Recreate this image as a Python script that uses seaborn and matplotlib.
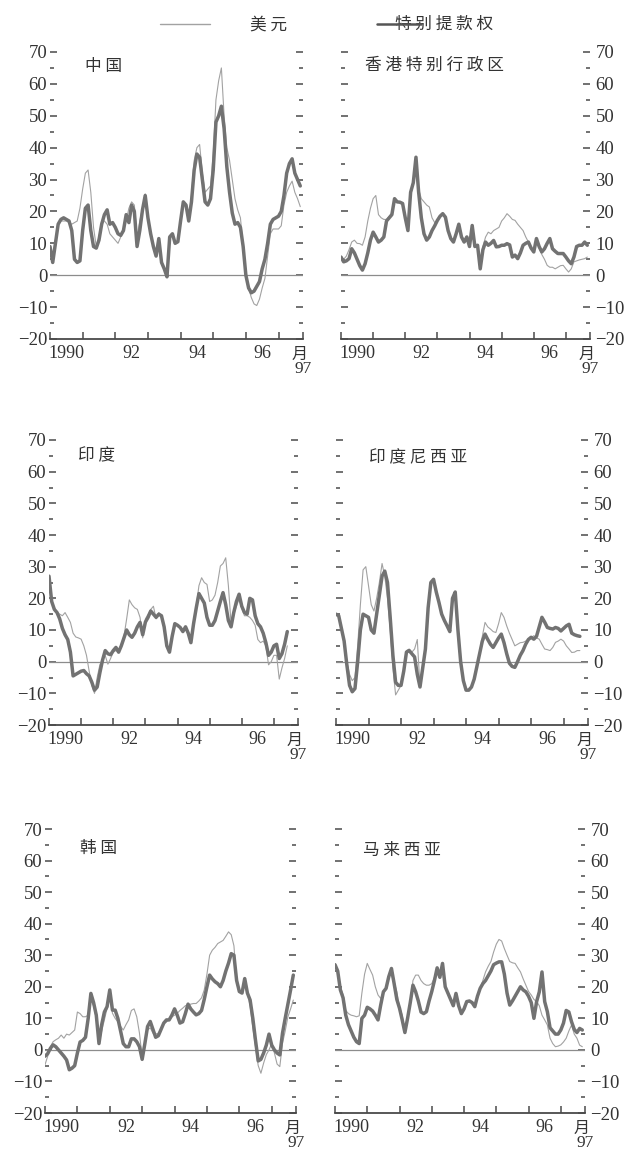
import numpy as np
import matplotlib
matplotlib.use("Agg")
import matplotlib.pyplot as plt
from matplotlib.lines import Line2D
from matplotlib.ticker import MultipleLocator, FixedLocator
import seaborn as sns

# ---------------------------------------------------------------
# Monthly exchange-rate change (%), Jan 1990 onwards.
# *_sdr : against the SDR basket (thick line)
# *_usd : against the US dollar (thin line)
# ---------------------------------------------------------------
china_sdr = [9, 4, 10, 16, 17.5, 18, 17.5, 17, 14, 5, 4, 4.5,
             14, 21, 22, 14, 9, 8.5, 11, 16, 19, 20.5, 16, 16.5,
             15, 13, 12.5, 14, 19, 16.5, 22, 20, 9, 14, 20.5, 25,
             18, 13, 9, 6, 11.5, 4, 2, -0.5, 12, 13, 10, 10.5,
             17, 23, 22, 17, 23, 33, 38, 37, 30, 23, 22, 24,
             33, 48, 50, 53, 46, 34, 26, 19.5, 16, 16.5, 15, 9,
             0, -4, -5.5, -5, -3.5, -2, 2, 5, 10, 16, 17.5, 18,
             18.5, 20, 25, 32, 35, 36.5, 32, 30, 28]
china_usd = [9, 6, 11, 16, 17, 17, 17, 16.5, 16, 16.5, 17, 21,
             27, 32, 33, 26, 15, 9, 12, 17, 17, 16, 13, 12,
             11, 10, 12, 14.5, 17, 21, 23, 22, 12, 17, 21, 25.5,
             18, 13, 9, 6, 11, 4, 2, -0.5, 12, 13, 10, 10.5,
             17, 23, 22, 17, 25, 36, 40, 41, 32, 26, 27, 28,
             38, 55, 61, 65, 50, 40, 36, 30, 24, 20.5, 18, 9,
             0, -4, -7, -9, -9.5, -7.5, -4, -1, 6, 13, 14.5, 14.5,
             14.5, 15.5, 22, 26, 28, 29.5, 26, 24, 21.5]

hk_sdr = [5.7, 4.2, 4.5, 5.2, 8.3, 7, 5, 3, 1.6, 3.6, 7, 11,
          13.5, 12, 10.4, 11, 12, 17, 18, 19, 24, 23, 22.9, 22.5,
          18, 14, 26, 29, 37, 26, 18, 13, 11, 12, 14, 15.5,
          17.2, 18.5, 19.3, 18.2, 14, 11.5, 10.4, 13, 16, 12, 10.4, 12,
          9, 15.6, 9, 9.4, 2, 8, 10.4, 9.4, 10, 10.9, 8.9, 9,
          9.4, 9.4, 9.9, 9.5, 5.7, 6.3, 5.2, 7, 9.4, 10, 10.4, 8.5,
          7.3, 11.5, 9, 7.3, 8.3, 10, 11.5, 8.3, 7.5, 6.8, 6.8, 6.8,
          5.7, 4.5, 3.6, 5.7, 9, 9.4, 9.4, 10.4, 9.4]
hk_usd = [5.7, 5, 6, 8, 10.4, 11, 10, 9.9, 9.4, 12, 17, 21,
          24, 25, 19, 18, 17.5, 17.5, 18.5, 19.5, 24, 23, 23, 22.5,
          18, 15, 26, 29, 37, 27, 24, 23, 22, 21.4, 18, 16.5,
          17.2, 18.5, 19.3, 18.2, 14, 11.5, 10.4, 13, 16, 12, 10.4, 12,
          9, 15.6, 9, 9.4, 3, 9, 12, 13.5, 13, 14, 14.5, 15,
          17, 18, 19.3, 18.5, 17.5, 17.2, 16, 15, 14, 12, 10.4, 8.5,
          7.3, 11, 8.5, 6.5, 5, 3.1, 2.5, 2.5, 2, 2.5, 3, 3.1,
          2, 1, 2, 4.2, 4.5, 4.8, 5, 5.2, 5.7]

india_sdr = [27, 19, 16.5, 15.5, 13.5, 10.5, 8.5, 7, 3, -4.5, -4, -3.5,
             -3, -2.8, -3.8, -4.5, -6.5, -9, -8, -3.5, 0.5, 3.5, 2.5, 2.2,
             3.5, 4.5, 3, 5, 7.5, 10, 8.5, 7.7, 9, 11, 12.4, 8.5,
             12.5, 14, 16, 15, 14, 15, 14.5, 11, 5, 3, 8, 12,
             11.5, 10.8, 9.5, 11, 9, 6, 12, 17, 21.5, 20, 18.5, 14,
             11.5, 11.5, 13, 16, 19, 21.8, 18, 13, 11, 15.5, 19, 21.3,
             17.5, 15.5, 15, 20, 19.5, 14.5, 12, 11, 9, 6, 2, 3,
             5, 5.5, 1, 2.5, 5.5, 9.5]
india_usd = [26, 18.5, 17, 15.5, 15, 14.5, 15.5, 14, 12.4, 9, 7.8, 7.5,
             7.1, 5, 2, -3, -7.5, -10, -5, -1, 0.8, 1.9, -0.8, 1,
             3, 3.5, 3, 5.5, 8, 13.5, 19.5, 18, 17, 16.5, 14, 7.5,
             13.5, 15, 16.5, 17.5, 13.5, 15.5, 14.5, 11, 5, 3, 8, 12,
             11.5, 10.8, 9.5, 11, 9, 7, 13, 17.5, 24, 26.5, 25, 24.4,
             19, 19.5, 21, 25, 30.2, 31, 32.8, 24, 12, 15, 17.5, 19.7,
             17, 14.5, 14.5, 14, 13, 11.5, 7, 6, 6.5, 5, -1, 0,
             2, 2, -5.5, -2, 1, 5]

indonesia_sdr = [15, 14.5, 10.5, 6.5, -1, -7.5, -9.5, -8.5, 0, 10, 15, 14.5,
                 14, 10, 9, 15, 21, 27, 28.6, 25, 14, 2, -6.5, -7.5,
                 -7.5, -3, 3, 3.5, 2.5, 1.5, -4, -8, -2, 4, 17, 25,
                 26, 22, 18.7, 15, 13, 11.3, 9.5, 20, 22, 10, 0, -6,
                 -9, -9, -8, -5.5, -1.5, 2.5, 6.5, 8.7, 7, 5.5, 4.5, 6,
                 7.5, 8.7, 6, 2.5, -0.5, -1.5, -1.8, 0, 2, 3.5, 5.5, 7,
                 7.7, 7.1, 8, 11, 14, 12.5, 10.8, 10.5, 10.3, 10.8, 10.5, 9.7,
                 10.5, 11.3, 11.8, 9, 8.5, 8.2, 8]
indonesia_usd = [15, 14.5, 10.5, 6.5, 0, -4, -6, -5, 5, 18, 29, 30,
                 24, 18, 16, 20, 25, 31, 27, 20, 10, -2, -10.5, -9,
                 -7.5, -3, 3.5, 4, 3, 4, 7, -8, -2, 4, 17, 25,
                 26, 22, 18.7, 15, 13, 11.3, 9.5, 20, 22, 10, 0, -6,
                 -9, -9, -8, -5.5, -1.5, 3, 8, 12.4, 11, 10.3, 9.5, 9.2,
                 12, 15.5, 14, 11.3, 9, 7, 5, 5.5, 6, 6.1, 6.5, 7.1,
                 7.5, 8.2, 7.5, 7.1, 5.5, 4, 3.8, 3.5, 4.5, 6.1, 6.5, 7.1,
                 6.5, 5, 4, 2.9, 3, 3.5, 3.5]

korea_sdr = [-2, -1.2, 0.5, 1.6, 1, 0, -1, -2, -3.2, -6.3, -5.8, -5,
             -1, 2.5, 3, 4, 10, 17.9, 15, 11, 2, 8, 12, 13.7,
             19, 12.6, 12.6, 10, 6, 2, 1, 1, 3.5, 3.5, 2.6, 1,
             -3, 2, 7.4, 9, 6.5, 4, 4.5, 6.5, 8.5, 9.5, 9.5, 11,
             13, 11, 8.5, 8.9, 11.5, 14.5, 13, 12, 11.1, 11.5, 12.5, 16,
             20, 23.7, 22.5, 21.6, 21, 20, 22, 25, 27.5, 30.5, 30, 22,
             18.5, 18, 22.6, 18, 15.8, 10, 3, -3.5, -3, -1, 1.5, 5,
             1.5, 0, -1, -1.6, 5.3, 10, 14.5, 19, 23.7]
korea_usd = [-4.7, -2, 1, 2.6, 3.2, 3.7, 4.7, 3.7, 5, 4.7, 5.5, 6.3,
             12, 11.5, 10.5, 10.5, 11, 15.8, 14, 10, 2, 6, 9.5, 13.2,
             16.8, 11.6, 10, 8.9, 7.5, 6.3, 8, 9.5, 12.5, 13, 10.5, 5.3,
             -2.5, 1.5, 6.3, 7, 5.3, 5, 5.3, 6.5, 8.4, 8.9, 9.5, 10.5,
             11, 11.6, 12.5, 13.2, 14, 14.2, 14.5, 14.7, 14.7, 15.5, 16.5, 19,
             24, 30, 31.6, 32.5, 33.7, 34.2, 34.7, 36, 37.4, 36.5, 33, 22,
             18.5, 18.5, 20.5, 18, 14, 7, 1, -5, -7.4, -4.2, -1.5, 0,
             2, -1, -4.5, -5.3, 2.1, 6, 10.5, 13, 15.8]

malaysia_sdr = [27, 25, 19, 16.5, 11, 8, 6, 4, 2.6, 2, 10, 11,
                13.5, 13, 12.3, 11, 9.5, 14.2, 18.4, 19.5, 23.2, 25.8, 21, 16,
                13.2, 9.5, 5.5, 10, 15, 20.5, 18.4, 15.5, 12, 11.5, 12.1, 15.5,
                18.5, 22, 26, 23, 27.4, 20, 18, 16, 14, 17.9, 14, 11.5,
                13, 15.3, 15.5, 15, 13.7, 17, 19.5, 21, 22, 23.5, 25, 27,
                27.5, 27.9, 27.9, 24, 18, 14.2, 15.5, 17, 18.5, 20, 19, 18.4,
                17, 15, 10, 15.3, 18.4, 24.7, 15.3, 12.1, 7, 6, 5, 5,
                6.3, 8.5, 12.5, 12, 8.9, 6.5, 5.5, 6.8, 6.3]
malaysia_usd = [26, 25, 20, 17.4, 12.5, 11.5, 11, 10.8, 10.5, 10.8, 18, 24,
                27.4, 25.5, 23.7, 20, 17.4, 16.3, 18.4, 19.5, 23.7, 23.7, 21.5, 18.4,
                13.5, 11, 5.5, 10, 15, 22, 23.7, 23.7, 22, 21, 20.5, 20.5,
                21, 23, 26, 23, 27.4, 20, 18, 16, 14, 17.9, 14, 11.5,
                13, 15.3, 15.5, 15, 14.5, 17, 19.5, 22, 24.7, 26.5, 28, 31,
                33.5, 35, 34.5, 32.1, 30, 28, 27.6, 27.4, 26, 24.7, 22.5, 20.5,
                18.5, 17.4, 16, 15.3, 14, 11, 9.5, 7.9, 3.7, 2, 1, 1.2,
                1.6, 2.5, 3.7, 6, 7.9, 5, 3.7, 1.5, 1]

panel_names = ["中 国", "香 港 特 别 行 政 区", "印 度", "印 度 尼 西 亚", "韩 国", "马 来 西 亚"]
year_labels = ["1990", "92", "94", "96"]
legend_labels = ["美 元", "特 别 提 款 权"]

series = [(china_sdr, china_usd), (hk_sdr, hk_usd), (india_sdr, india_usd),
          (indonesia_sdr, indonesia_usd), (korea_sdr, korea_usd),
          (malaysia_sdr, malaysia_usd)]

# ---------------------------------------------------------------
sns.set_theme(style="white")
plt.rcParams["font.family"] = ["Liberation Serif", "DejaVu Serif"]
plt.rcParams["axes.unicode_minus"] = True
CJK = ["Noto Sans CJK SC", "DejaVu Sans"]
INK = "#333333"
AXC = "#4a4a4a"
THIN = "#a2a2a2"
THICK = "#727272"

W, H = 630, 1152
fig = plt.figure(figsize=(W / 100, H / 100), dpi=100)
fig.patch.set_facecolor("white")

# panel boxes in pixels: left, right, top(=70), bottom(=-20)
boxes = [(50, 303, 52, 339), (341, 590, 52, 339),
         (49, 298, 440, 725), (336, 588, 440, 725),
         (45, 296, 829, 1113), (335, 585, 829, 1113)]
# title offsets in pixels from the panel's top-left corner
title_off = [(35, 14), (24, 13), (29, 16), (33, 18), (35, 19), (28, 21)]

X0, X1 = 1990.0, 1997.75

for k, ((l, r, t, b), (sdr, usd)) in enumerate(zip(boxes, series)):
    ax = fig.add_axes([l / W, 1 - b / H, (r - l) / W, (b - t) / H])
    ax.set_facecolor("none")
    left_col = (k % 2 == 0)

    x_usd = 1990 + np.arange(len(usd)) / 12.0
    x_sdr = 1990 + np.arange(len(sdr)) / 12.0

    ax.axhline(0, color="#8c8c8c", lw=0.9, zorder=1)
    sns.lineplot(x=x_usd, y=usd, ax=ax, color=THIN, linewidth=0.8,
                 legend=False, zorder=2)
    sns.lineplot(x=x_sdr, y=sdr, ax=ax, color=THICK, linewidth=2.5,
                 legend=False, zorder=3)

    ax.set_xlim(X0, X1)
    ax.set_ylim(-20, 70)

    for side in ("left", "right", "top"):
        ax.spines[side].set_visible(False)
    ax.spines["bottom"].set_color(AXC)
    ax.spines["bottom"].set_linewidth(1.3)

    # y axis: dashes every 5, labels every 10 on the outer side only
    ax.yaxis.set_major_locator(FixedLocator(list(range(-20, 71, 10))))
    ax.yaxis.set_minor_locator(MultipleLocator(5))
    ax.tick_params(axis="y", which="both", direction="in", left=True,
                   right=True, labelleft=left_col, labelright=not left_col,
                   colors=AXC, labelcolor=INK, width=1.1,
                   pad=(2 if left_col else 4), labelsize=13.5)
    ax.tick_params(axis="y", which="major", length=5)
    ax.tick_params(axis="y", which="minor", length=3)

    # x axis: labels in the middle of the year, small ticks at year ends
    ax.xaxis.set_major_locator(FixedLocator([1990.5, 1992.5, 1994.5, 1996.5]))
    ax.set_xticklabels(year_labels)
    ax.xaxis.set_minor_locator(FixedLocator([1990, 1991, 1992, 1993, 1994,
                                             1995, 1996, 1997, X1]))
    ax.tick_params(axis="x", which="major", length=0, pad=4, labelsize=13,
                   labelcolor=INK, bottom=True, top=False)
    ax.tick_params(axis="x", which="minor", direction="in", length=5,
                   width=1.1, colors=AXC, bottom=True, top=False)
    ax.set_xlabel("")
    ax.set_ylabel("")
    ax.grid(False)

    ax.annotate("月", xy=(X1, 0), xycoords=("data", "axes fraction"),
                xytext=(-2.5, -5), textcoords="offset points", ha="center",
                va="top", fontsize=11.5, color=INK, family=CJK)
    ax.annotate("97", xy=(X1, 0), xycoords=("data", "axes fraction"),
                xytext=(0, -16), textcoords="offset points", ha="center",
                va="top", fontsize=12.5, color=INK)

    ox, oy = title_off[k]
    ax.text(ox / (r - l), 1 - oy / (b - t), panel_names[k],
            transform=ax.transAxes, ha="left", va="center", fontsize=12,
            color=INK, family=CJK)

# legend across the top
ly = 1 - 24 / H
fig.add_artist(Line2D([160 / W, 210 / W], [ly, ly], color=THIN, lw=1.0))
fig.text(250 / W, 1 - 25.5 / H, legend_labels[0], ha="left", va="center",
         fontsize=12, color=INK, family=CJK)
fig.text(395 / W, 1 - 24 / H, legend_labels[1], ha="left", va="center",
         fontsize=12, color=INK, family=CJK)
ly2 = 1 - 23.5 / H
fig.add_artist(Line2D([377 / W, 421 / W], [ly2, ly2], color="#555555",
                      lw=1.8, zorder=5))

fig.savefig("out.png", dpi=100, facecolor="white")
